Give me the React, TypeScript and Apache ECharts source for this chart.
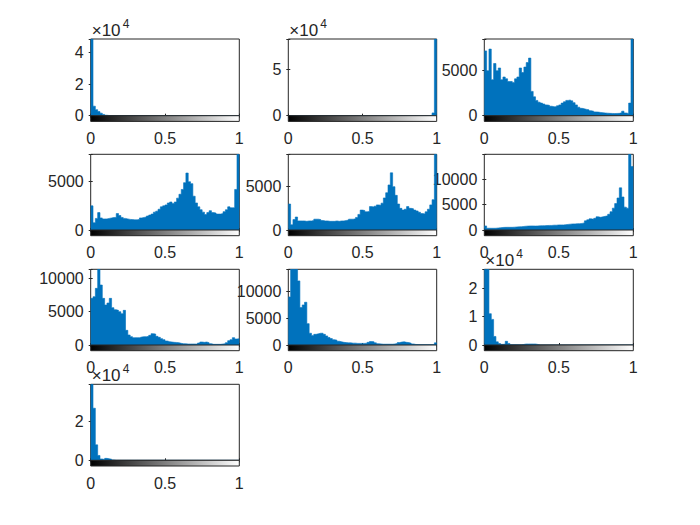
import { useEffect, useRef } from "react";
import * as echarts from "echarts";

// 64-bin intensity histograms (counts)
const BINS = 64;

const P1 = [
  48400, 6000, 3800, 2600, 1600, 800, 300, 100, 0, 0, 0, 0, 0, 0, 0, 0,
  0, 0, 0, 0, 0, 0, 0, 0, 0, 0, 0, 0, 0, 0, 0, 0,
  0, 0, 0, 0, 0, 0, 0, 0, 0, 0, 0, 0, 0, 0, 0, 0,
  0, 0, 0, 0, 0, 0, 0, 0, 0, 0, 0, 0, 0, 0, 0, 0,
];
const P2 = [
  0, 0, 0, 0, 0, 0, 0, 0, 0, 0, 0, 0, 0, 0, 0, 0,
  0, 0, 0, 0, 0, 0, 0, 0, 0, 0, 0, 0, 0, 0, 0, 0,
  0, 0, 0, 0, 0, 0, 0, 0, 0, 0, 0, 0, 0, 0, 0, 0,
  0, 0, 0, 0, 0, 0, 0, 0, 0, 0, 0, 0, 0, 500, 3000, 82600,
];
const P3 = [
  7200, 5000, 7400, 4000, 5800, 5000, 5300, 4000, 4300, 4100, 3800, 3800, 3700, 4100, 4300, 5300,
  4800, 5400, 5900, 6400, 2700, 2100, 1700, 1500, 1400, 1300, 1200, 1150, 1050, 1000, 1000, 1100,
  1200, 1400, 1550, 1700, 1750, 1650, 1450, 1200, 950, 820, 760, 700, 650, 550, 500, 420,
  400, 360, 330, 300, 280, 260, 250, 240, 250, 260, 330, 500, 300, 250, 1400, 8520,
];
const P4 = [
  2500, 750, 1200, 1800, 1250, 1150, 1150, 1200, 1250, 1300, 1300, 1700, 1500, 1300, 1200, 1150,
  1100, 1080, 1050, 1050, 1100, 1250, 1300, 1350, 1450, 1550, 1650, 1850, 1950, 2150, 2400, 2500,
  2600, 2800, 2900, 2750, 2900, 3300, 3700, 4200, 4900, 5900, 5000, 4800, 3500, 2800, 2400, 2100,
  1850, 1600, 1800, 2000, 1800, 1750, 1650, 1650, 1700, 1900, 2100, 2400, 2300, 2300, 4200, 7840,
];
const P5 = [
  3000, 600, 1200, 1500, 1050, 1050, 1050, 1000, 1050, 1050, 1100, 1250, 1250, 1200, 1100, 1050,
  1050, 1000, 1000, 1000, 1050, 1000, 1050, 1050, 1100, 1150, 1250, 1250, 1300, 1450, 1800, 2300,
  2250, 2100, 2150, 2700, 2650, 2750, 2900, 2850, 3100, 3700, 4300, 5200, 6600, 5000, 4000, 3000,
  2500, 2300, 2400, 2700, 2500, 2450, 2300, 2200, 2050, 1900, 1850, 2100, 2400, 2900, 3500, 8740,
];
const P6 = [
  800, 350, 340, 340, 350, 400, 450, 500, 520, 530, 530, 530, 560, 600, 620, 650,
  700, 750, 780, 800, 800, 780, 800, 820, 850, 850, 880, 900, 900, 950, 950, 1000,
  1000, 1000, 1050, 1100, 1150, 1200, 1200, 1250, 1250, 1300, 1400, 1800, 2000, 2200, 2100, 2300,
  2600, 2500, 2600, 2700, 2800, 3100, 3600, 4300, 5200, 6300, 8300, 6500, 4500, 4300, 14900, 12500,
];
const P7 = [
  7000, 7250, 8500, 11360, 9000, 7000, 6000, 6300, 7000, 5600, 5300, 5200, 5000, 4700, 5200, 2200,
  1500, 1250, 1100, 1100, 1100, 1200, 1250, 1250, 1300, 1450, 1700, 1650, 1300, 1150, 950, 800,
  600, 500, 450, 400, 380, 350, 250, 200, 180, 150, 150, 150, 150, 150, 300, 450,
  400, 450, 350, 200, 100, 100, 100, 100, 150, 200, 350, 650, 800, 1100, 900, 950,
];
const P8 = [
  9000, 14170, 14170, 14170, 12000, 7000, 7500, 8000, 4000, 2200, 1800, 2000, 2100, 2200, 2200, 2000,
  1700, 1400, 1200, 1000, 900, 700, 600, 500, 450, 400, 400, 350, 350, 300, 300, 300,
  300, 350, 500, 650, 600, 400, 250, 200, 150, 150, 150, 150, 150, 200, 300, 450,
  550, 600, 500, 450, 350, 200, 100, 80, 60, 50, 50, 50, 50, 50, 50, 400,
];
const P9 = [
  26600, 26600, 11000, 9000, 3000, 1100, 500, 230, 300, 1300, 550, 100, 100, 80, 60, 60,
  200, 350, 350, 350, 350, 350, 200, 0, 0, 0, 0, 0, 0, 0, 0, 0,
  0, 0, 0, 0, 0, 0, 0, 0, 0, 0, 0, 0, 0, 0, 0, 0,
  0, 0, 0, 0, 0, 0, 0, 0, 0, 0, 0, 0, 0, 0, 0, 0,
];
const P10 = [
  39400, 27000, 8000, 2500, 700, 400, 1000, 800, 600, 200, 0, 0, 0, 0, 0, 0,
  0, 0, 0, 0, 0, 0, 0, 0, 0, 0, 0, 0, 0, 0, 0, 0,
  0, 0, 0, 0, 0, 0, 0, 0, 0, 0, 0, 0, 0, 0, 0, 0,
  0, 0, 0, 0, 0, 0, 0, 0, 0, 0, 0, 0, 0, 0, 0, 0,
];

const PANELS = [P1, P2, P3, P4, P5, P6, P7, P8, P9, P10];
const Y_MAX = [48400, 82600, 8520, 7840, 8740, 14900, 11360, 14170, 26600, 39400];
const Y_STEP = [20000, 50000, 5000, 5000, 5000, 5000, 5000, 5000, 10000, 20000];
const Y_SCI = [true, true, false, false, false, false, false, false, true, true];
const X_MIN = 0;
const X_MAX = 1;
const X_STEP = 0.5;

// layout (pixels)
const COL_LEFT = [90.7, 288.3, 484.3];
const COL_W = [148.6, 148.4, 149];
const ROW_TOP = [39, 154.3, 269.3, 384.3];
const ROW_H = [76.7, 75.7, 75.7, 76];
const CB_H = 5.7;

const INK = "#262626";
const BLUE = "#0072BD";
const FONT = "'Liberation Sans', Arial, Helvetica, sans-serif";

export default function App() {
  const ref = useRef<HTMLDivElement>(null);

  useEffect(() => {
    document.body.style.margin = "0";
    const chart = echarts.init(ref.current!, null, { renderer: "svg" });
    const grid: any[] = [];
    const xAxis: any[] = [];
    const yAxis: any[] = [];
    const series: any[] = [];
    const graphic: any[] = [];

    const tickStyle = { show: true, inside: true, length: 2, lineStyle: { color: INK, width: 1 } };

    PANELS.forEach((bins, i) => {
      const r = Math.floor(i / 3);
      const c = i % 3;
      const left = COL_LEFT[c];
      const width = COL_W[c];
      const top = ROW_TOP[r];
      const height = ROW_H[r];
      const step = Y_STEP[i];
      const sci = Y_SCI[i];

      const gi = grid.length;
      grid.push({ left, top, width, height, show: true, borderColor: INK, borderWidth: 1, backgroundColor: "#fff" });
      grid.push({ left, top: top + height, width, height: CB_H });

      const xb = xAxis.length;
      const xBase = {
        type: "value",
        min: X_MIN,
        max: X_MAX,
        interval: X_STEP,
        splitLine: { show: false },
      };
      xAxis.push({ ...xBase, gridIndex: gi, position: "bottom", axisLine: { show: false }, axisTick: tickStyle, axisLabel: { show: false } });
      xAxis.push({ ...xBase, gridIndex: gi, position: "top", axisLine: { show: false }, axisTick: tickStyle, axisLabel: { show: false } });
      xAxis.push({
        ...xBase,
        gridIndex: gi + 1,
        position: "bottom",
        axisLine: { show: false },
        axisTick: { show: false },
        axisLabel: { show: true, fontSize: 16, color: INK, fontFamily: FONT, margin: 9, formatter: (v: number) => String(v) },
      });

      const yb = yAxis.length;
      const yBase = {
        type: "value",
        gridIndex: gi,
        min: 0,
        max: Y_MAX[i],
        interval: step,
        splitLine: { show: false },
        axisLine: { show: false },
        axisTick: tickStyle,
      };
      yAxis.push({
        ...yBase,
        position: "left",
        axisLabel: {
          show: true,
          fontSize: 16,
          color: INK,
          fontFamily: FONT,
          margin: 7,
          formatter: (v: number) => {
            if (Math.abs(v / step - Math.round(v / step)) > 1e-6) return "";
            return sci ? String(v / 10000) : String(v);
          },
        },
      });
      yAxis.push({ ...yBase, position: "right", axisLabel: { show: false } });
      yAxis.push({ type: "value", gridIndex: gi + 1, min: 0, max: 1, show: false });

      const data = bins.map((v, k) => [k / BINS, v]);
      data.push([1, bins[BINS - 1]]);
      series.push({
        type: "line",
        xAxisIndex: xb,
        yAxisIndex: yb,
        step: "end",
        symbol: "none",
        silent: true,
        clip: true,
        data,
        lineStyle: { width: 0.6, color: BLUE },
        areaStyle: { color: BLUE, opacity: 1 },
      });

      graphic.push({
        type: "rect",
        z: 10,
        shape: { x: left, y: top + height, width, height: CB_H },
        style: {
          fill: {
            type: "linear",
            x: 0,
            y: 0,
            x2: 1,
            y2: 0,
            colorStops: [
              { offset: 0, color: "#000000" },
              { offset: 1, color: "#ffffff" },
            ],
          },
          stroke: INK,
          lineWidth: 1,
        },
      });

      if (sci) {
        graphic.push({
          type: "text",
          z: 10,
          x: left + 1,
          y: top - 9,
          style: { text: "×10", fontSize: 17, fontFamily: FONT, fill: INK, align: "left", verticalAlign: "middle" },
        });
        graphic.push({
          type: "text",
          z: 10,
          x: left + 32,
          y: top - 15,
          style: { text: "4", fontSize: 12, fontFamily: FONT, fill: INK, align: "left", verticalAlign: "middle" },
        });
      }
    });

    chart.setOption({
      animation: false,
      backgroundColor: "#ffffff",
      grid,
      xAxis,
      yAxis,
      series,
      graphic,
    });

    return () => chart.dispose();
  }, []);

  return <div ref={ref} style={{ position: "absolute", left: 0, top: 0, width: 700, height: 525 }} />;
}
